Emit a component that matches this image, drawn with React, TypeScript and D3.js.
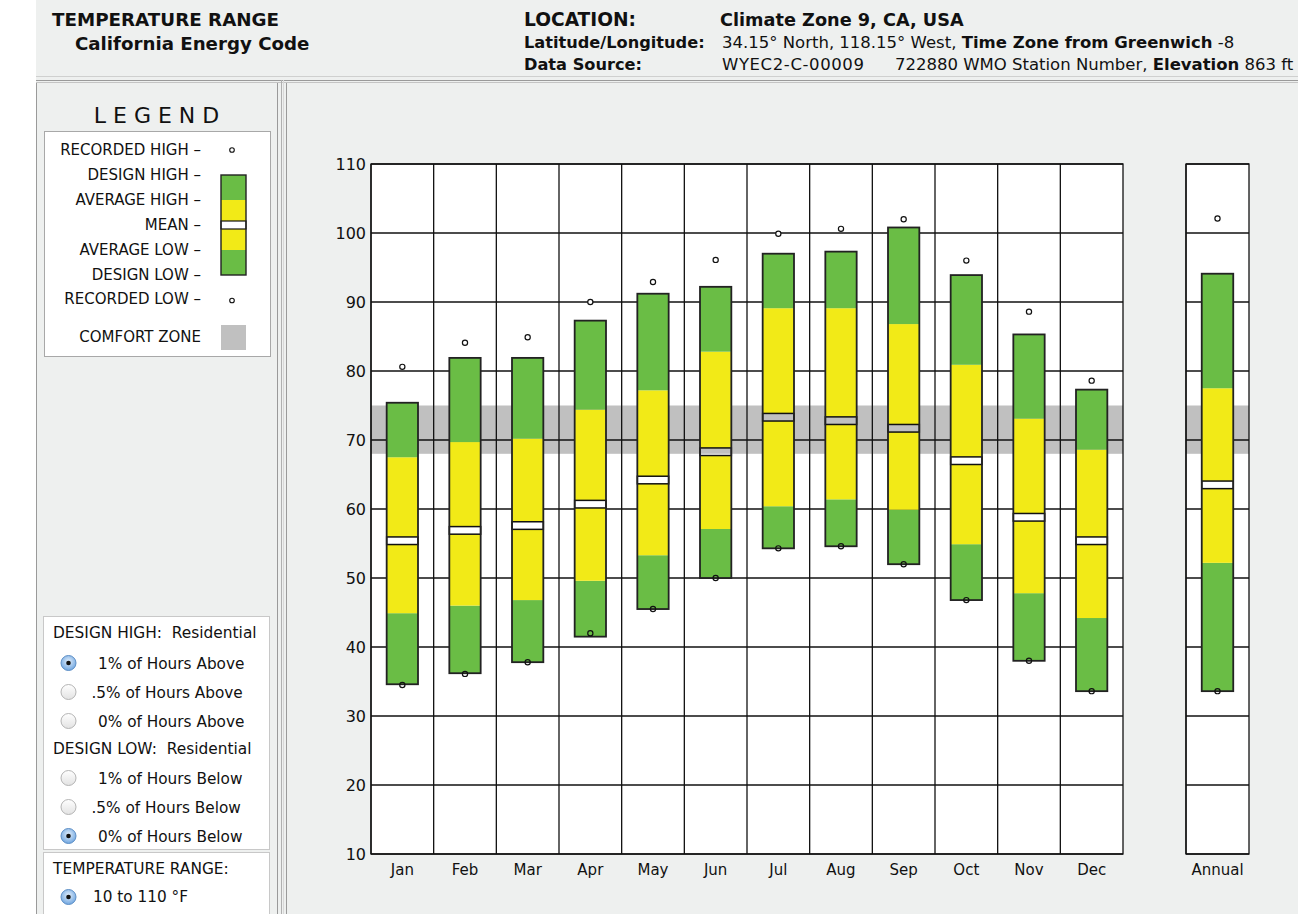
import React from "react";
import * as d3 from "d3";

// monthly values, °F
const months = ["Jan", "Feb", "Mar", "Apr", "May", "Jun", "Jul", "Aug", "Sep", "Oct", "Nov", "Dec"];
const recordedHigh = [80.6, 84.1, 84.9, 90.0, 92.9, 96.1, 99.9, 100.6, 102.0, 96.0, 88.6, 78.6];
const designHigh = [75.4, 81.9, 81.9, 87.3, 91.2, 92.2, 97.0, 97.3, 100.8, 93.9, 85.3, 77.3];
const averageHigh = [67.5, 69.7, 70.2, 74.4, 77.2, 82.8, 89.1, 89.1, 86.8, 80.9, 73.1, 68.6];
const meanTemp = [55.4, 56.9, 57.6, 60.7, 64.2, 68.3, 73.3, 72.8, 71.7, 67.0, 58.8, 55.4];
const averageLow = [44.9, 46.0, 46.8, 49.6, 53.3, 57.1, 60.4, 61.4, 59.9, 54.9, 47.8, 44.2];
const designLow = [34.6, 36.2, 37.8, 41.5, 45.5, 50.0, 54.3, 54.6, 52.0, 46.8, 38.0, 33.6];
const recordedLow = [34.5, 36.1, 37.8, 42.0, 45.5, 50.0, 54.3, 54.6, 52.0, 46.8, 38.0, 33.6];

// annual column
const annualLabel = ["Annual"];
const annualRecordedHigh = [102.1];
const annualDesignHigh = [94.1];
const annualAverageHigh = [77.5];
const annualMean = [63.5];
const annualAverageLow = [52.2];
const annualDesignLow = [33.6];
const annualRecordedLow = [33.6];

const comfortZone = [68, 75];
const yTicks = [10, 20, 30, 40, 50, 60, 70, 80, 90, 100, 110];

const legendRows = ["RECORDED HIGH –", "DESIGN HIGH –", "AVERAGE HIGH –", "MEAN –", "AVERAGE LOW –", "DESIGN LOW –", "RECORDED LOW –"];
const designHighOptions = ["1% of Hours Above", ".5% of Hours Above", "0% of Hours Above"];
const designLowOptions = ["1% of Hours Below", ".5% of Hours Below", "0% of Hours Below"];

const GREEN = "#6abd45";
const YELLOW = "#f2ea17";
const GRAY = "#c0c0c0";
const BG = "#eef0ef";
const FONT = "'DejaVu Sans', sans-serif";

type Col = { label: string; rh: number; dh: number; ah: number; m: number; al: number; dl: number; rl: number };

const monthCols: Col[] = months.map((m, i) => ({
  label: m, rh: recordedHigh[i], dh: designHigh[i], ah: averageHigh[i], m: meanTemp[i],
  al: averageLow[i], dl: designLow[i], rl: recordedLow[i],
}));
const annualCols: Col[] = annualLabel.map((m, i) => ({
  label: m, rh: annualRecordedHigh[i], dh: annualDesignHigh[i], ah: annualAverageHigh[i], m: annualMean[i],
  al: annualAverageLow[i], dl: annualDesignLow[i], rl: annualRecordedLow[i],
}));

const y = d3.scaleLinear().domain([10, 110]).range([854, 164]);
const xMonths = d3.scaleBand<string>().domain(months).range([371, 1123]);
const xAnnual = d3.scaleBand<string>().domain(annualLabel).range([1186, 1249]);

const Radio = ({ cx, cy, on }: { cx: number; cy: number; on: boolean }) => (
  <g>
    <circle cx={cx} cy={cy} r={7.5} fill={on ? "url(#radOn)" : "url(#radOff)"} stroke={on ? "#5d8fc6" : "#b4b4b4"} strokeWidth={1} />
    {on && <circle cx={cx} cy={cy} r={2.3} fill="#111" />}
  </g>
);

const Panel = ({ cols, x }: { cols: Col[]; x: d3.ScaleBand<string> }) => {
  const [x0, x1] = x.range();
  const bw = x.bandwidth() * 0.5;
  const half = 0.55;
  return (
    <g>
      <rect x={x0} y={y(110)} width={x1 - x0} height={y(10) - y(110)} fill="#fff" />
      <rect x={x0} y={y(comfortZone[1])} width={x1 - x0} height={y(comfortZone[0]) - y(comfortZone[1])} fill={GRAY} />
      {yTicks.map((t) => (
        <line key={t} x1={x0} x2={x1} y1={y(t)} y2={y(t)} stroke="#111" strokeWidth={1.3} />
      ))}
      {cols.map((c) => (
        <line key={c.label} x1={x(c.label)!} x2={x(c.label)!} y1={y(110)} y2={y(10)} stroke="#111" strokeWidth={1.3} />
      ))}
      <rect x={x0} y={y(110)} width={x1 - x0} height={y(10) - y(110)} fill="none" stroke="#111" strokeWidth={1.3} />
      {cols.map((c) => {
        const bx = x(c.label)! + x.bandwidth() / 2 - bw / 2;
        const cx = x(c.label)! + x.bandwidth() / 2;
        return (
          <g key={c.label}>
            <rect x={bx} y={y(c.al)} width={bw} height={y(c.dl) - y(c.al)} fill={GREEN} />
            <rect x={bx} y={y(c.m - half)} width={bw} height={y(c.al) - y(c.m - half)} fill={YELLOW} />
            <rect x={bx} y={y(c.ah)} width={bw} height={y(c.m + half) - y(c.ah)} fill={YELLOW} />
            <rect x={bx} y={y(c.dh)} width={bw} height={y(c.ah) - y(c.dh)} fill={GREEN} />
            <rect x={bx} y={y(c.m + half)} width={bw} height={y(c.m - half) - y(c.m + half)} fill="none" stroke="#111" strokeWidth={1.5} />
            <rect x={bx} y={y(c.dh)} width={bw} height={y(c.dl) - y(c.dh)} fill="none" stroke="#222" strokeWidth={1.8} />
            <circle cx={cx} cy={y(c.rh)} r={2.6} fill="#fff" stroke="#111" strokeWidth={1.2} />
            <circle cx={cx} cy={y(c.rl)} r={2.6} fill="none" stroke="#111" strokeWidth={1.2} />
            <text x={cx} y={875} textAnchor="middle" fontSize={15} fontFamily={FONT} fill="#111">{c.label}</text>
          </g>
        );
      })}
    </g>
  );
};

export default function App() {
  const legendBar = [
    { y0: 175, y1: 200, fill: GREEN },
    { y0: 200, y1: 221, fill: YELLOW },
    { y0: 229, y1: 250, fill: YELLOW },
    { y0: 250, y1: 275, fill: GREEN },
  ];
  return (
    <svg width={1298} height={914} style={{ position: "absolute", left: 0, top: 0 }} fontFamily={FONT}>
      <defs>
        <radialGradient id="radOn" cx="50%" cy="40%" r="60%">
          <stop offset="0%" stopColor="#e2effc" />
          <stop offset="100%" stopColor="#6fa5df" />
        </radialGradient>
        <linearGradient id="radOff" x1="0" y1="0" x2="0" y2="1">
          <stop offset="0%" stopColor="#ffffff" />
          <stop offset="100%" stopColor="#e2e2e2" />
        </linearGradient>
      </defs>
      <rect x={0} y={0} width={1298} height={914} fill="#fff" />
      <rect x={36} y={0} width={1262} height={914} fill={BG} />

      {/* header */}
      <g fill="#111" fontWeight="bold">
        <text x={52} y={26} fontSize={18.3}>TEMPERATURE RANGE</text>
        <text x={75} y={50} fontSize={18.2}>California Energy Code</text>
        <text x={524} y={26} fontSize={18.6}>LOCATION:</text>
        <text x={720} y={26} fontSize={17.7}>Climate Zone 9, CA, USA</text>
        <text x={524} y={48} fontSize={16.2}>Latitude/Longitude:</text>
        <text x={524} y={70} fontSize={16.2}>Data Source:</text>
      </g>
      <text x={722} y={48} fontSize={16.5} fill="#111">
        34.15° North, 118.15° West, <tspan fontWeight="bold">Time Zone from Greenwich</tspan> -8
      </text>
      <text y={70} fontSize={16.5} fill="#111">
        <tspan x={722} letterSpacing={0.6}>WYEC2-C-00009</tspan>
        <tspan x={895}>722880 WMO Station Number, </tspan>
        <tspan fontWeight="bold">Elevation</tspan> 863 ft
      </text>

      {/* frame lines */}
      <line x1={36} x2={1298} y1={76.5} y2={76.5} stroke="#cfd0cf" />
      <line x1={36} x2={1298} y1={80.5} y2={80.5} stroke="#9a9a9a" />
      <line x1={36} x2={1298} y1={82.5} y2={82.5} stroke="#c4c4c4" />
      <line x1={36.5} x2={36.5} y1={83} y2={914} stroke="#9a9a9a" />
      <line x1={277.5} x2={277.5} y1={83} y2={914} stroke="#9a9a9a" />
      <line x1={281.5} x2={281.5} y1={80} y2={914} stroke="#b0b0b0" />
      <line x1={283.5} x2={283.5} y1={80} y2={914} stroke="#d8d8d8" />
      <line x1={286.5} x2={286.5} y1={83} y2={914} stroke="#9a9a9a" />

      {/* legend */}
      <text x={160} y={123} fontSize={22} textAnchor="middle" letterSpacing={7} fill="#111">LEGEND</text>
      <rect x={44.5} y={131.5} width={226} height={225} fill="#fff" stroke="#a8a8a8" />
      {legendRows.map((r, i) => (
        <text key={r} x={201} y={155 + i * 24.9} fontSize={15} textAnchor="end" fill="#111">{r}</text>
      ))}
      <circle cx={232} cy={150} r={2.3} fill="#fff" stroke="#111" strokeWidth={1.1} />
      <circle cx={232} cy={300.5} r={2.3} fill="#fff" stroke="#111" strokeWidth={1.1} />
      {legendBar.map((s, i) => (
        <rect key={i} x={221} y={s.y0} width={25} height={s.y1 - s.y0} fill={s.fill} />
      ))}
      <rect x={221} y={221} width={25} height={8} fill="#fff" stroke="#111" strokeWidth={1.2} />
      <rect x={221} y={175} width={25} height={100} fill="none" stroke="#222" strokeWidth={1.4} />
      <text x={201} y={342} fontSize={15} textAnchor="end" fill="#111">COMFORT ZONE</text>
      <rect x={221} y={325} width={25} height={25} fill={GRAY} />

      {/* design options */}
      <rect x={43.5} y={616.5} width={226} height={233} fill="#fff" stroke="#c8c8c8" />
      <text x={53} y={638} fontSize={15.4} fill="#111">DESIGN HIGH:{"\u00a0 "}Residential</text>
      {designHighOptions.map((o, i) => (
        <g key={o}>
          <Radio cx={68.5} cy={663 + i * 29} on={i === 0} />
          <text x={o.startsWith(".") ? 91.5 : 98} y={668.5 + i * 29} fontSize={15.3} fill="#111">{o}</text>
        </g>
      ))}
      <text x={53} y={754} fontSize={15.4} fill="#111">DESIGN LOW:{"\u00a0 "}Residential</text>
      {designLowOptions.map((o, i) => (
        <g key={o}>
          <Radio cx={68.5} cy={778 + i * 29} on={i === 2} />
          <text x={o.startsWith(".") ? 91.5 : 98} y={783.5 + i * 29} fontSize={15.3} fill="#111">{o}</text>
        </g>
      ))}
      <rect x={43.5} y={852.5} width={226} height={80} fill="#fff" stroke="#c8c8c8" />
      <text x={53} y={873.5} fontSize={15.4} fill="#111">TEMPERATURE RANGE:</text>
      <Radio cx={68.5} cy={897} on={true} />
      <text x={93} y={902} fontSize={15.3} fill="#111">10 to 110 °F</text>

      {/* chart */}
      {yTicks.map((t) => (
        <text key={t} x={366} y={y(t)} dy="0.35em" textAnchor="end" fontSize={16} fill="#111">{t}</text>
      ))}
      <Panel cols={monthCols} x={xMonths} />
      <Panel cols={annualCols} x={xAnnual} />
    </svg>
  );
}
